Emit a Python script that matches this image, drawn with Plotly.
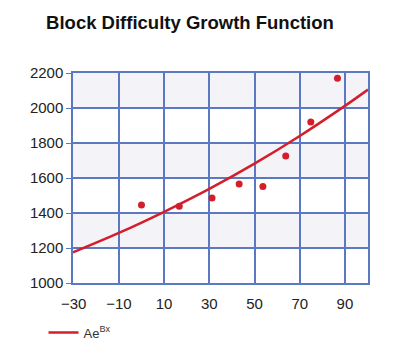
import plotly.graph_objects as go

# Observed data points
point_x = [0, 16.7, 31.2, 43.2, 53.7, 63.8, 74.9, 86.7]
point_y = [1446, 1438, 1486, 1566, 1551, 1726, 1920, 2170]

# Fitted curve
curve_x = [-30.3, -10, 10, 30, 50, 70, 90, 100.2]
curve_y = [1175, 1286, 1407, 1538, 1682, 1840, 2012, 2105]

x_ticks = [-30, -10, 10, 30, 50, 70, 90]
y_ticks = [1000, 1200, 1400, 1600, 1800, 2000, 2200]
band_ranges = [(1200, 1400), (1600, 1800), (2000, 2200)]

grid_color = "#5b78c2"
red = "#d21f2b"

fig = go.Figure()
fig.add_trace(go.Scatter(x=curve_x, y=curve_y, mode="lines", name="Ae<sup>Bx</sup>",
                         line=dict(color=red, width=2.5, shape="spline")))
fig.add_trace(go.Scatter(x=point_x, y=point_y, mode="markers", showlegend=False,
                         marker=dict(color=red, size=7)))

for y0, y1 in band_ranges:
    fig.add_shape(type="rect", xref="paper", yref="y", x0=0, x1=1, y0=y0, y1=y1,
                  fillcolor="#f3f3f8", line=dict(width=0), layer="below")

fig.update_layout(
    width=386, height=354,
    margin=dict(l=65, r=26, t=65, b=79),
    paper_bgcolor="white", plot_bgcolor="white",
    font=dict(family="Liberation Sans, Arial, sans-serif", size=15, color="#222"),
    title=dict(text="<b>Block Difficulty Growth Function</b>", x=0.4715, xanchor="center",
               y=0.96, yanchor="middle", font=dict(size=18.5, color="#111")),
    showlegend=True,
    legend=dict(orientation="h", x=-0.10, xanchor="left", y=-0.165, yanchor="top",
                font=dict(size=13, color="#333"), bgcolor="rgba(0,0,0,0)"),
)
fig.update_xaxes(range=[-30.3, 100.2], tickvals=x_ticks, showgrid=True, gridcolor=grid_color,
                 gridwidth=1.5, showline=True, linecolor=grid_color, linewidth=1.5, mirror=True,
                 zeroline=False, ticks="", ticklen=0, ticklabelstandoff=6)
fig.update_yaxes(range=[1000, 2200], tickvals=y_ticks, showgrid=True, gridcolor=grid_color,
                 gridwidth=1.5, showline=True, linecolor=grid_color, linewidth=1.5, mirror=True,
                 zeroline=False, ticks="outside", ticklen=5, tickcolor=grid_color)

fig.write_html("out.html")
